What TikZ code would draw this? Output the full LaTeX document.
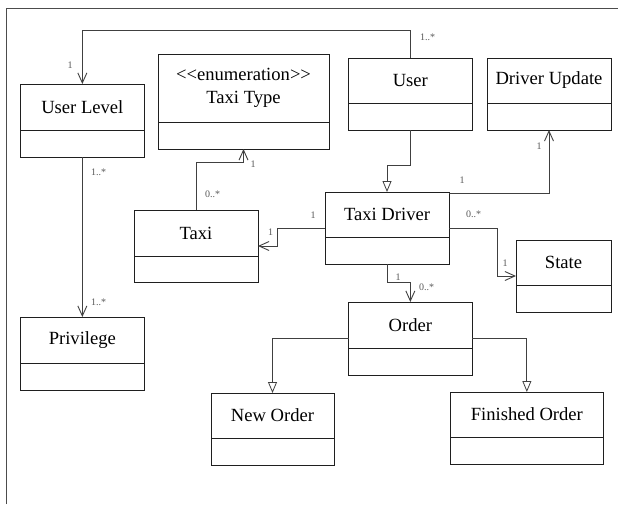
\documentclass[tikz,border=0pt]{standalone}
\usepackage{fontspec}
\newfontfamily\umlfont{Liberation Serif}
\usetikzlibrary{arrows.meta,calc}

\tikzset{
  classbox/.style={draw=black!88, line width=1pt, inner sep=0pt, outer sep=0pt, rectangle},
  classline/.style={draw=black!88, line width=1pt},
  classname/.style={font=\umlfont\fontsize{18.6}{23}\selectfont, align=center, inner sep=0pt},
  mult/.style={font=\umlfont\fontsize{10}{12}\selectfont, text=black!65, inner sep=0pt},
  assoc/.style={draw=black!75, line width=0.8pt, -{Straight Barb[length=10pt,width=9pt,line width=0.9pt]}},
  inherit/.style={draw=black!75, line width=0.8pt, -{Triangle[open,length=11pt,width=9pt,fill=white,line width=0.8pt]}},
  frameline/.style={draw=black!70, line width=0.9pt}
}

% class box: name, left, top, right, divider, bottom, title
\newcommand\umlclass[7]{%
  \node[classbox, minimum width={(#4-#2)*1pt}, minimum height={(#6-#3)*1pt}, anchor=north west] (#1) at (#2,#3) {};
  \draw[classline] (#2,#5) -- (#4,#5);
  \node[classname] (#1-name) at ({(#2+#4)/2},{(#3+#5)/2}) {#7};
}

\begin{document}
\begin{tikzpicture}[x=1pt, y=-1pt]
\useasboundingbox (0,0) rectangle (618,504);
\fill[white] (0,0) rectangle (618,504);

% outer frame (top and left edges)
\draw[frameline] (6,504) -- (6,8.5) -- (618,8.5);

% classes
\umlclass{ul}{20.7}{84}{144}{130}{157}{User Level}
\umlclass{tt}{158}{54}{329}{122}{149}{<<enumeration>>\\Taxi Type}
\umlclass{user}{348.7}{58}{472}{103}{130}{User}
\umlclass{du}{487}{58}{611}{103}{130}{Driver Update}
\umlclass{td}{325}{192}{449}{237}{264}{Taxi Driver}
\umlclass{taxi}{134}{210}{258}{256}{282}{Taxi}
\umlclass{state}{516}{240}{611}{285}{312}{State}
\umlclass{priv}{20.7}{317}{144}{363}{390}{Privilege}
\umlclass{order}{348.7}{302}{472}{348}{375}{Order}
\umlclass{neworder}{211}{393}{334}{438}{465}{New Order}
\umlclass{fin}{450.7}{392}{603}{437}{464}{Finished Order}

% associations
\draw[assoc] (user.north) -- ++(0,-28) -| (ul.north);
\draw[assoc] (ul.south) -- (priv.north);
\draw[assoc] (taxi.north) -- ++(0,-48) -| (tt.south);
\draw[assoc] (td.west) -- ++(-48,0) |- (taxi.east);
\draw[assoc] ([yshift=-1pt]td.north east) -| (du.south);
\draw[assoc] (td.east) -- ++(48,0) |- (state.west);
\draw[assoc] (td.south) -- ++(0,18) -| (order.north);

% generalizations
\draw[inherit] (user.south) -- ++(0,35) -| (td.north);
\draw[inherit] (order.west) -| (neworder.north);
\draw[inherit] (order.east) -| (fin.north);

% multiplicities
\node[mult, anchor=west] (m1) at (420,37) {1..*};
\node[mult] (m2) at (70,65) {1};
\node[mult, anchor=west] (m3) at (91,172) {1..*};
\node[mult, anchor=west] (m4) at (91,302) {1..*};
\node[mult, anchor=west] (m5) at (205,194) {0..*};
\node[mult] (m6) at (253,164) {1};
\node[mult] (m7) at (313,215) {1};
\node[mult] (m8) at (270.5,232) {1};
\node[mult] (m9) at (462,180) {1};
\node[mult] (m10) at (539,146) {1};
\node[mult, anchor=west] (m11) at (466,214) {0..*};
\node[mult] (m12) at (505,263) {1};
\node[mult] (m13) at (398,277) {1};
\node[mult, anchor=west] (m14) at (419,287) {0..*};
\end{tikzpicture}
\end{document}
